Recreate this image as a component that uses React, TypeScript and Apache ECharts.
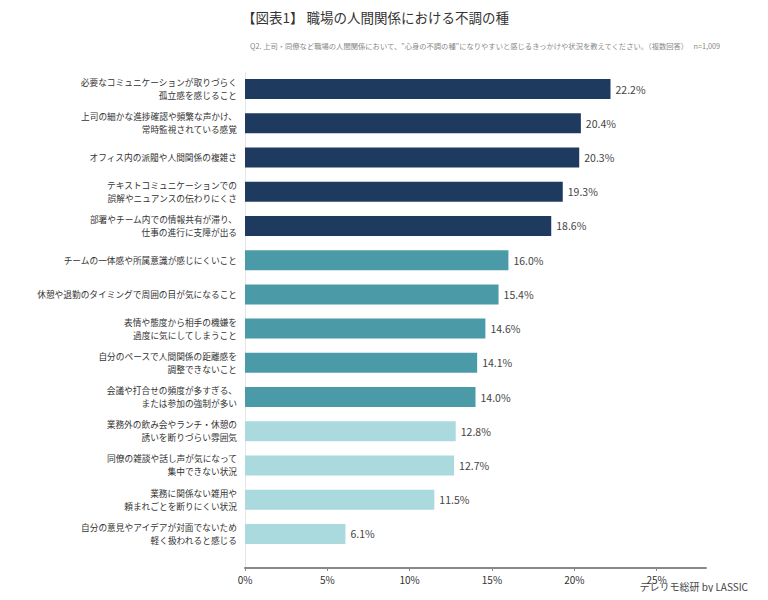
import React, { useEffect, useRef } from "react";
import * as echarts from "echarts";

const titleText = "【図表1】 職場の人間関係における不調の種";
const subtitleText =
  "Q2. 上司・同僚など職場の人間関係において、\"心身の不調の種\"になりやすいと感じるきっかけや状況を教えてください。（複数回答）　 n=1,009";
const footerText = "テレリモ総研 by LASSIC";

const categories = [
  "必要なコミュニケーションが取りづらく\n孤立感を感じること",
  "上司の細かな進捗確認や頻繁な声かけ、\n常時監視されている感覚",
  "オフィス内の派閥や人間関係の複雑さ",
  "テキストコミュニケーションでの\n誤解やニュアンスの伝わりにくさ",
  "部署やチーム内での情報共有が滞り、\n仕事の進行に支障が出る",
  "チームの一体感や所属意識が感じにくいこと",
  "休憩や退勤のタイミングで周囲の目が気になること",
  "表情や態度から相手の機嫌を\n過度に気にしてしまうこと",
  "自分のペースで人間関係の距離感を\n調整できないこと",
  "会議や打合せの頻度が多すぎる、\nまたは参加の強制が多い",
  "業務外の飲み会やランチ・休憩の\n誘いを断りづらい雰囲気",
  "同僚の雑談や話し声が気になって\n集中できない状況",
  "業務に関係ない雑用や\n頼まれごとを断りにくい状況",
  "自分の意見やアイデアが対面でないため\n軽く扱われると感じる",
];
const values = [22.2, 20.4, 20.3, 19.3, 18.6, 16.0, 15.4, 14.6, 14.1, 14.0, 12.8, 12.7, 11.5, 6.1];
const groups = [0, 0, 0, 0, 0, 1, 1, 1, 1, 1, 2, 2, 2, 2];
const groupColors = ["#1f3a5f", "#4a9ba7", "#aad9de"];
const xTicks = [0, 5, 10, 15, 20, 25];

export default function App() {
  const ref = useRef<HTMLDivElement>(null);
  useEffect(() => {
    if (!ref.current) return;
    const chart = echarts.init(ref.current, null, { renderer: "svg" });
    const font = "'Noto Sans CJK JP', 'Noto Sans', sans-serif";
    chart.setOption({
      animation: false,
      backgroundColor: "#ffffff",
      textStyle: { fontFamily: font },
      title: [
        {
          text: titleText,
          left: 237,
          top: 5,
          textStyle: { fontSize: 13.5, fontWeight: "normal", color: "#333", fontFamily: font },
        },
        {
          text: subtitleText,
          left: 245,
          top: 37,
          textStyle: { fontSize: 7.3, fontWeight: "normal", color: "#888", fontFamily: font },
        },
        {
          text: footerText,
          right: 15,
          bottom: 4,
          textStyle: { fontSize: 10, fontWeight: "normal", color: "#444", fontFamily: font },
        },
      ],
      grid: [
        { left: 245, right: 62, top: 72, bottom: 49, containLabel: false },
        { left: 245, right: 62, top: 72, bottom: 32, containLabel: false },
      ],
      xAxis: [
        {
          gridIndex: 0,
          type: "value",
          min: 0,
          max: 28,
          interval: 5,
          show: false,
        },
        {
          gridIndex: 1,
          type: "value",
          min: 0,
          max: 28,
          interval: 5,
          axisLine: { show: true, lineStyle: { color: "#888", width: 2 } },
          axisTick: { show: true, length: 3, lineStyle: { color: "#888" } },
          splitLine: { show: false },
          axisLabel: {
            showMaxLabel: false,
            color: "#333",
            fontSize: 10,
            margin: 6,
            formatter: (v: number) => (xTicks.includes(v) ? v + "%" : ""),
          },
        },
      ],
      yAxis: [
        {
          gridIndex: 0,
          type: "category",
          inverse: true,
          data: categories,
          axisLine: { show: false },
          axisTick: { show: false },
          axisLabel: {
            color: "#333",
            fontSize: 8.7,
            lineHeight: 13,
            margin: 8,
            align: "right",
          },
        },
        {
          gridIndex: 1,
          type: "value",
          axisLine: { show: true, lineStyle: { color: "#e6e6e6", width: 1 } },
          axisTick: { show: false },
          axisLabel: { show: false },
          splitLine: { show: false },
        },
      ],
      series: [
        {
          type: "bar",
          xAxisIndex: 0,
          yAxisIndex: 0,
          barWidth: 20,
          data: values.map((v, i) => ({
            value: v,
            itemStyle: { color: groupColors[groups[i]] },
          })),
          label: {
            show: true,
            position: "right",
            distance: 5,
            color: "#444",
            fontSize: 10.5,
            formatter: (p: any) => Number(p.value).toFixed(1) + "%",
          },
        },
      ],
    });
    return () => chart.dispose();
  }, []);
  return <div ref={ref} style={{ width: 768, height: 600, margin: -8 }} />;
}
